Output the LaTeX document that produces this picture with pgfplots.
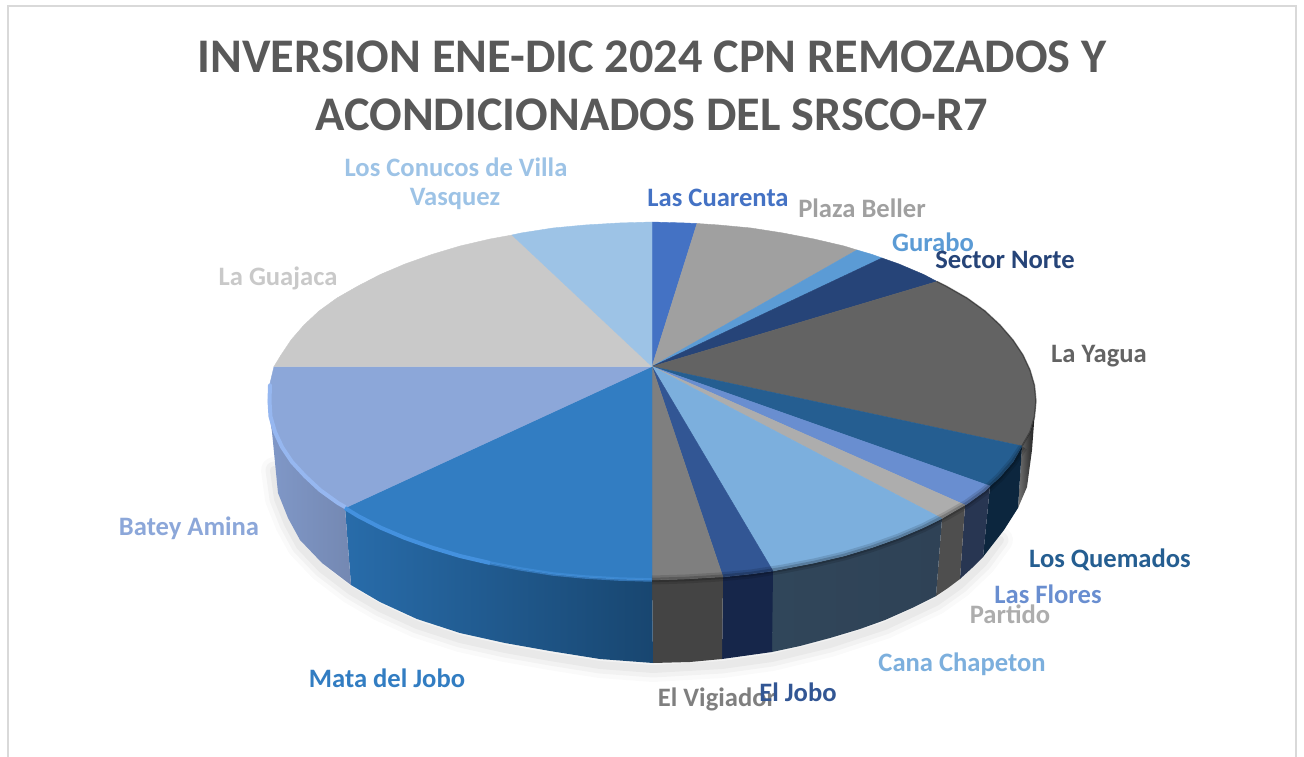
\documentclass[border=0pt]{standalone}
\usepackage{fontspec}
\setmainfont{Carlito}
\usepackage{pgfplots}
\pgfplotsset{compat=1.18}
\definecolor{cCua}{HTML}{4472C4}
\definecolor{cPla}{HTML}{A0A0A0}
\definecolor{cGur}{HTML}{5B9BD5}
\definecolor{cSec}{HTML}{264478}
\definecolor{cYag}{HTML}{636363}
\definecolor{cQue}{HTML}{255E91}
\definecolor{cFlo}{HTML}{698ED0}
\definecolor{cPar}{HTML}{ADADAD}
\definecolor{cCan}{HTML}{7CAFDD}
\definecolor{cJob}{HTML}{325694}
\definecolor{cVig}{HTML}{7F7F7F}
\definecolor{cMat}{HTML}{327DC2}
\definecolor{cBat}{HTML}{8CA7D9}
\definecolor{cGua}{HTML}{C9C9C9}
\definecolor{cCon}{HTML}{9DC3E6}
\definecolor{cTit}{HTML}{595959}
\pgfplotsset{slice/.style={draw=#1,fill=#1,line width=0.4pt,mark=none}}
\newcommand{\lab}[1]{\fontsize{26.6}{30}\selectfont\bfseries #1}
\begin{document}
\begin{tikzpicture}
\path[use as bounding box] (0,0) rectangle (1304pt,757pt);
\begin{axis}[at={(0,0)},anchor=south west,scale only axis,width=1304pt,height=757pt,hide axis,
  xmin=0,xmax=1304,ymin=0,ymax=757,y dir=reverse,clip=false]
% frame
\addplot[draw=black!15,line width=2.5pt,mark=none] coordinates {(8,757)(8,6)(1296,6)(1296,757)};
% shadow
\addplot[draw=black,opacity=0.02,line width=26pt,mark=none,line join=round,line cap=round] coordinates {(274,470)(278,499)(288,524)(300,546)(322,569)(351,591)(380,608)(417,625)(460,639)(505,649)(550,657)(600,665)(653,669)(722,665)(772,658)(830,644)(885,626)(936,602)(960,585)(983,563)(1000,540)};
\addplot[draw=black,opacity=0.03,line width=17pt,mark=none,line join=round,line cap=round] coordinates {(274,470)(278,499)(288,524)(300,546)(322,569)(351,591)(380,608)(417,625)(460,639)(505,649)(550,657)(600,665)(653,669)(722,665)(772,658)(830,644)(885,626)(936,602)(960,585)(983,563)(1000,540)};
\addplot[draw=black,opacity=0.035,line width=8pt,mark=none,line join=round,line cap=round] coordinates {(274,470)(278,499)(288,524)(300,546)(322,569)(351,591)(380,608)(417,625)(460,639)(505,649)(550,657)(600,665)(653,669)(722,665)(772,658)(830,644)(885,626)(936,602)(960,585)(983,563)(1000,540)};
% sides
\addplot[draw=none,mark=none,left color=black!55,right color=black!90] coordinates {(1036,401)(1034.5,416.6)(1030,432)(1022,446)(1018,508)(1027,487)(1032,450)(1035,410)} --cycle;
\addplot[draw=none,mark=none,fill={rgb,255:red,12;green,38;blue,62}] coordinates {(1022,446)(1013,462)(1000,477)(990,486)(983,557)(1004,530)(1018,508)} --cycle;
\addplot[draw=none,mark=none,fill={rgb,255:red,40;green,54;blue,82}] coordinates {(990,486)(985,491)(967,504)(965,505)(960,579)(972,568)(983,557)} --cycle;
\addplot[draw=none,mark=none,fill={rgb,255:red,78;green,78;blue,78}] coordinates {(965,505)(946,516)(942,518.5)(936,596)(948,588)(960,579)} --cycle;
\addplot[draw=none,mark=none,left color={rgb,255:red,48;green,70;blue,90},right color={rgb,255:red,47;green,66;blue,86}] coordinates {(942,518.5)(923.5,527.6)(899,538)(872,547.6)(844,556)(814,563)(783,569)(773,571)(772,652)(800,646)(830,638)(860,629)(885,620)(912,608)(936,596)} --cycle;
\addplot[draw=none,mark=none,fill={rgb,255:red,22;green,38;blue,74}] coordinates {(773,571)(751,574)(723,577)(722,659)(772,652)} --cycle;
\addplot[draw=none,mark=none,fill={rgb,255:red,68;green,68;blue,68}] coordinates {(723,577)(719,577)(685.5,579)(652,580)(653,663)(690,662)(722,659)} --cycle;
\addplot[draw=none,mark=none,left color={rgb,255:red,40;green,108;blue,170},right color={rgb,255:red,24;green,70;blue,112}] coordinates {(652,580)(618.5,579)(585,577)(553,574)(521,569)(490,563)(460,556)(432,547.6)(405,538)(380.5,527.6)(358,516)(345,508)(351,585)(380,602)(417,619)(460,633)(505,643)(550,651)(600,659)(653,663)} --cycle;
\addplot[draw=none,mark=none,left color={rgb,255:red,128;green,152;blue,200},right color={rgb,255:red,116;green,136;blue,178}] coordinates {(345,508)(337,504)(319,491)(304,477)(291,462)(281,447)(274,432)(269.5,416.6)(268,401)(268,407)(272,432)(278,493)(288,518)(300,540)(322,563)(351,585)} --cycle;
% top face
\addplot[slice=cCua] coordinates {(652,366.5)(652,222)(685.5,223)(697,223.5)} --cycle;
\addplot[slice=cPla] coordinates {(652,366.5)(697,223.5)(719,225)(751,228)(783,233)(814,239)(844,246)(857,250)} --cycle;
\addplot[slice=cGur] coordinates {(652,366.5)(857,250)(872,254.4)(882,258)} --cycle;
\addplot[slice=cSec] coordinates {(652,366.5)(882,258)(899,264)(923.5,274.4)(937,281.5)} --cycle;
\addplot[slice=cYag] coordinates {(652,366.5)(937,281.5)(946,286)(967,298)(985,311)(1000,325)(1013,340)(1023,355)(1030,370)(1034.5,385.4)(1036,401)(1034.5,416.6)(1030,432)(1022,446)} --cycle;
\addplot[slice=cQue] coordinates {(652,366.5)(1022,446)(1013,462)(1000,477)(990,486)} --cycle;
\addplot[slice=cFlo] coordinates {(652,366.5)(990,486)(985,491)(967,504)(965,505)} --cycle;
\addplot[slice=cPar] coordinates {(652,366.5)(965,505)(946,516)(942,518.5)} --cycle;
\addplot[slice=cCan] coordinates {(652,366.5)(942,518.5)(923.5,527.6)(899,538)(872,547.6)(844,556)(814,563)(783,569)(773,571)} --cycle;
\addplot[slice=cJob] coordinates {(652,366.5)(773,571)(751,574)(723,577)} --cycle;
\addplot[slice=cVig] coordinates {(652,366.5)(723,577)(719,577)(685.5,579)(652,580)} --cycle;
\addplot[slice=cMat] coordinates {(652,366.5)(652,580)(618.5,579)(585,577)(553,574)(521,569)(490,563)(460,556)(432,547.6)(405,538)(380.5,527.6)(358,516)(345,508)} --cycle;
\addplot[slice=cBat] coordinates {(652,366.5)(345,508)(337,504)(319,491)(304,477)(291,462)(281,447)(274,432)(269.5,416.6)(268,401)(269.5,385.4)(274,366.5)} --cycle;
\addplot[slice=cGua] coordinates {(652,366.5)(274,366.5)(281,355)(291,340)(304,325)(319,311)(337,298)(358,286)(380.5,274.4)(405,264)(432,254.4)(460,246)(490,239)(512,235)} --cycle;
\addplot[slice=cCon] coordinates {(652,366.5)(512,235)(521,233)(553,228)(585,225)(618.5,223)(652,222)} --cycle;
% bevel highlights and dark edge
\addplot[draw={rgb,255:red,150;green,183;blue,240},line width=4pt,mark=none,line cap=round] coordinates {(270,385.4)(269.5,401)(270.5,416.6)(275,432)(282,447)(292,462)(305,476)(320,490)(338,503)(345,507)};
\addplot[draw={rgb,255:red,68;green,145;blue,222},line width=4pt,mark=none,line cap=butt] coordinates {(345,508)(358,516)(380.5,527.6)(405,538)(432,547.6)(460,556)(490,563)};
\addplot[draw={rgb,255:red,68;green,145;blue,222},opacity=0.6,line width=3.5pt,mark=none,line cap=butt] coordinates {(490,563)(521,569)(553,574)(585,577)(618.5,579)(652,580)};
\addplot[draw=black,opacity=0.12,line width=9pt,mark=none,line cap=butt] coordinates {(652,580)(685.5,579)(719,577)(751,574)(783,569)(814,563)(844,556)(872,547.6)(899,538)(923.5,527.6)(946,516)(967,504)(985,491)(1000,477)(1013,462)(1023,447)};
\addplot[draw=black,opacity=0.18,line width=4.5pt,mark=none,line cap=butt] coordinates {(652,580)(685.5,579)(719,577)(751,574)(783,569)(814,563)(844,556)(872,547.6)(899,538)(923.5,527.6)(946,516)(967,504)(985,491)(1000,477)(1013,462)(1023,447)};
\addplot[draw=black,opacity=0.35,line width=1.5pt,mark=none,line cap=butt] coordinates {(937,281.5)(946,286)(967,298)(985,311)(1000,325)(1013,340)(1023,355)(1030,370)(1034.5,385.4)(1036,401)(1034.5,416.6)(1030,432)(1022,446)};
% title
\node[text=cTit,font=\fontsize{48.3}{52}\selectfont\bfseries,anchor=center] at (axis cs:652,57) {INVERSION ENE-DIC 2024 CPN REMOZADOS Y};
\node[text=cTit,font=\fontsize{48.3}{52}\selectfont\bfseries,anchor=center] at (axis cs:652,115) {ACONDICIONADOS DEL SRSCO-R7};
% labels
\node[text=cCon,anchor=center] at (axis cs:456,167) {\lab{Los Conucos de Villa}};
\node[text=cCon,anchor=center] at (axis cs:455,199) {\lab{Vasquez}};
\node[text=cCua,anchor=center] at (axis cs:718,198) {\lab{Las Cuarenta}};
\node[text=cPla,anchor=center] at (axis cs:862,208) {\lab{Plaza Beller}};
\node[text=cGur,anchor=center] at (axis cs:933,242) {\lab{Gurabo}};
\node[text=cSec,anchor=center] at (axis cs:1005,260) {\lab{Sector Norte}};
\node[text=cYag,anchor=center] at (axis cs:1099,356) {\lab{La Yagua}};
\node[text=cQue,anchor=center] at (axis cs:1110,560) {\lab{Los Quemados}};
\node[text=cFlo,anchor=center] at (axis cs:1048,594) {\lab{Las Flores}};
\node[text=cPar,anchor=center] at (axis cs:1010,614) {\lab{Partido}};
\node[text=cCan,anchor=center] at (axis cs:962,664) {\lab{Cana Chapeton}};
\node[text=cVig,anchor=center] at (axis cs:717,699) {\lab{El Vigiador}};
\node[text=cJob,anchor=center] at (axis cs:798,692) {\lab{El Jobo}};
\node[text=cMat,anchor=center] at (axis cs:387,678) {\lab{Mata del Jobo}};
\node[text=cBat,anchor=center] at (axis cs:189,528) {\lab{Batey Amina}};
\node[text=cGua,anchor=center] at (axis cs:278,278) {\lab{La Guajaca}};
\end{axis}
\end{tikzpicture}
\end{document}
